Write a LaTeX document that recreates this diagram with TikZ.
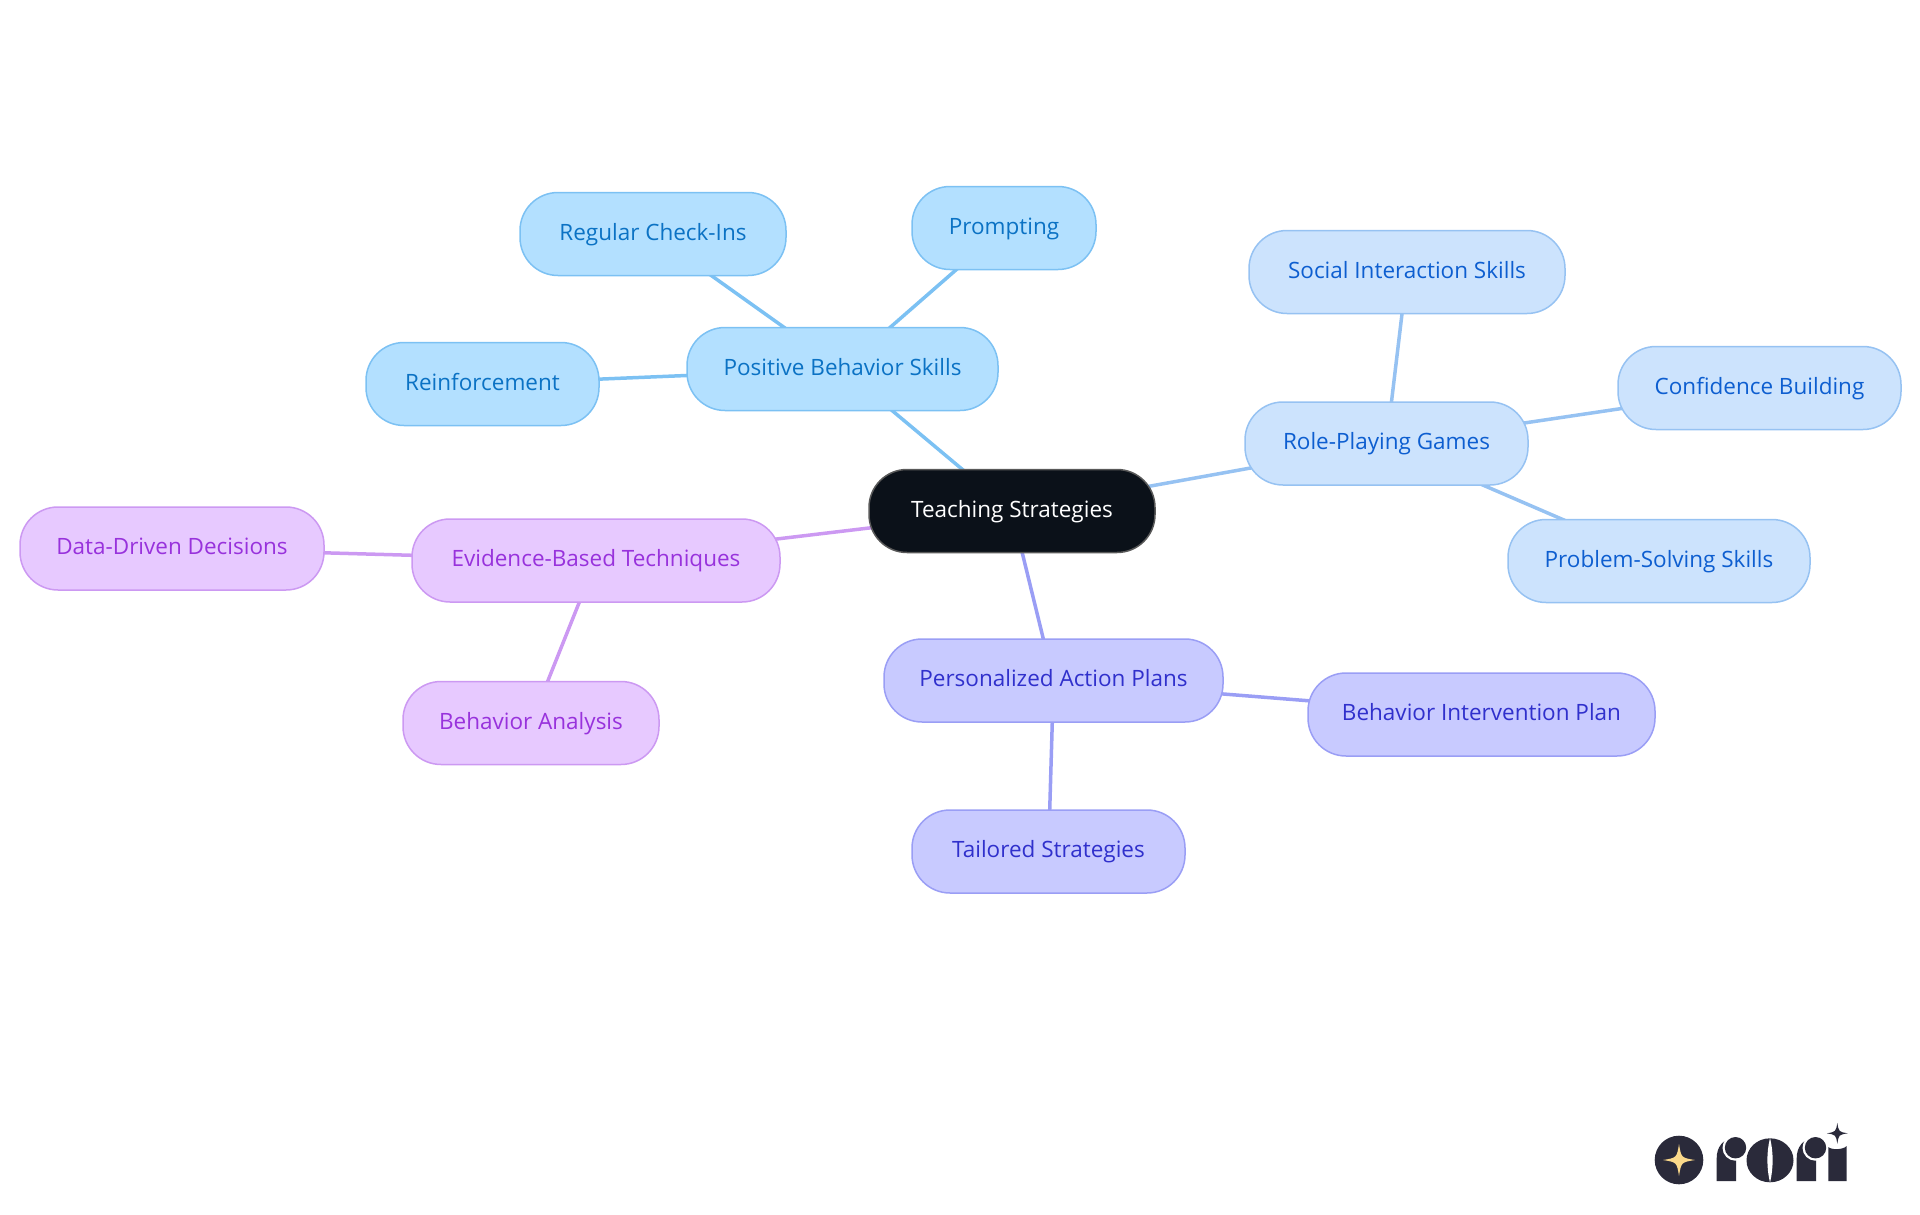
\documentclass[tikz,border=0pt]{standalone}
\usepackage{fontspec}
\setmainfont{Open Sans}
\usetikzlibrary{backgrounds}
\definecolor{skyfill}{HTML}{B3E0FF}
\definecolor{skyline}{HTML}{7CC1F3}
\definecolor{skytext}{HTML}{0B72C4}
\definecolor{rolefill}{HTML}{CCE3FD}
\definecolor{roleline}{HTML}{96C2F2}
\definecolor{roletext}{HTML}{0D5ED0}
\definecolor{planfill}{HTML}{C8CAFF}
\definecolor{planline}{HTML}{9A9EF5}
\definecolor{plantext}{HTML}{3030CC}
\definecolor{evidfill}{HTML}{E7C9FF}
\definecolor{evidline}{HTML}{CC99F2}
\definecolor{evidtext}{HTML}{9832DC}
\definecolor{rootfill}{HTML}{0B1119}
\definecolor{logodark}{HTML}{2A2A3A}
\definecolor{logostar}{HTML}{FBD98A}
\begin{document}
\begin{tikzpicture}[
      x=1pt, y=-1pt,
      box/.style={rectangle, rounded corners=38pt, line width=1.5pt, minimum height=83pt, inner sep=0pt, text height=17.5pt, text depth=5pt, font=\fontsize{22.5pt}{27pt}\selectfont},
      rootbox/.style={box, fill=rootfill, draw=black!65, text=white},
      skybox/.style={box, fill=skyfill, draw=skyline, text=skytext},
      rolebox/.style={box, fill=rolefill, draw=roleline, text=roletext},
      planbox/.style={box, fill=planfill, draw=planline, text=plantext},
      evidbox/.style={box, fill=evidfill, draw=evidline, text=evidtext},
      branch/.style={line width=3.5pt},
      sparkle/.pic={
         \fill (0,-1) .. controls (0.14,-0.14) .. (1,0) .. controls (0.14,0.14) .. (0,1) .. controls (-0.14,0.14) .. (-1,0) .. controls (-0.14,-0.14) .. cycle;
      }
   ]
   \useasboundingbox (0,0) rectangle (1920,1215);

   % Root and first level
   \node[rootbox, minimum width=286pt] (root) at (1012,511) {Teaching Strategies};
   \node[skybox, minimum width=311pt] (positive) at (842.5,369) {Positive Behavior Skills};
   \node[rolebox, minimum width=283pt] (roleplay) at (1386.5,443.5) {Role-Playing Games};
   \node[planbox, minimum width=339pt] (personal) at (1053.5,680.5) {Personalized Action Plans};
   \node[evidbox, minimum width=368pt] (evidence) at (596,560.5) {Evidence-Based Techniques};

   % Leaves
   \node[skybox, minimum width=266pt] (checkins) at (653,234) {Regular Check-Ins};
   \node[skybox, minimum width=184pt] (prompting) at (1004,228) {Prompting};
   \node[skybox, minimum width=233pt] (reinforce) at (482.5,384) {Reinforcement};
   \node[rolebox, minimum width=316pt] (social) at (1407,272) {Social Interaction Skills};
   \node[rolebox, minimum width=283pt] (confidence) at (1759.5,388) {Confidence Building};
   \node[rolebox, minimum width=302pt] (problem) at (1659,561) {Problem-Solving Skills};
   \node[planbox, minimum width=347pt] (intervention) at (1481.5,714.5) {Behavior Intervention Plan};
   \node[planbox, minimum width=273pt] (tailored) at (1048.5,851.5) {Tailored Strategies};
   \node[evidbox, minimum width=304pt] (datadriven) at (172,548.5) {Data-Driven Decisions};
   \node[evidbox, minimum width=256pt] (analysis) at (531,723) {Behavior Analysis};

   % Connectors run under the boxes
   \begin{scope}[on background layer]
      \draw[branch, skyline] (root.center) -- (positive.center);
      \draw[branch, skyline] (positive.center) -- (checkins.center);
      \draw[branch, skyline] (positive.center) -- (prompting.center);
      \draw[branch, skyline] (positive.center) -- (reinforce.center);
      \draw[branch, roleline] (root.center) -- (roleplay.center);
      \draw[branch, roleline] (roleplay.center) -- (social.center);
      \draw[branch, roleline] (roleplay.center) -- (confidence.center);
      \draw[branch, roleline] (roleplay.center) -- (problem.center);
      \draw[branch, planline] (root.center) -- (personal.center);
      \draw[branch, planline] (personal.center) -- (intervention.center);
      \draw[branch, planline] (personal.center) -- (tailored.center);
      \draw[branch, evidline] (root.center) -- (evidence.center);
      \draw[branch, evidline] (evidence.center) -- (datadriven.center);
      \draw[branch, evidline] (evidence.center) -- (analysis.center);
   \end{scope}

   % Logo
   \fill[logodark] (1679,1160) circle (24.3);
   \pic[logostar, scale=16] at (1679,1160) {sparkle};
   \fill[logodark] (1716.7,1181) -- (1716.7,1158) .. controls (1716.7,1147) and (1723,1139) .. (1733,1138.5) -- (1736,1138.5) -- (1736,1181) -- cycle;
   \fill[white] (1735.5,1147.7) circle (13);
   \fill[logodark] (1735.5,1147.7) circle (10.7);
   \fill[logodark] (1770,1160.3) ellipse (23.5 and 22);
   \fill[white] (1770,1138) .. controls (1773.5,1152) and (1773.5,1168) .. (1770,1182.6) .. controls (1766.5,1168) and (1766.5,1152) .. cycle;
   \fill[logodark] (1796.7,1181) -- (1796.7,1158) .. controls (1796.7,1147) and (1803,1139) .. (1813,1138.5) -- (1816,1138.5) -- (1816,1181) -- cycle;
   \fill[white] (1815.5,1147.7) circle (13);
   \fill[logodark] (1815.5,1147.7) circle (10.7);
   \fill[logodark] (1828.3,1181) -- (1828.3,1147) .. controls (1831,1150) and (1843,1150) .. (1846.7,1146) -- (1846.7,1181) -- cycle;
   \pic[logodark, scale=10.5] at (1837.3,1133.3) {sparkle};
\end{tikzpicture}
\end{document}
